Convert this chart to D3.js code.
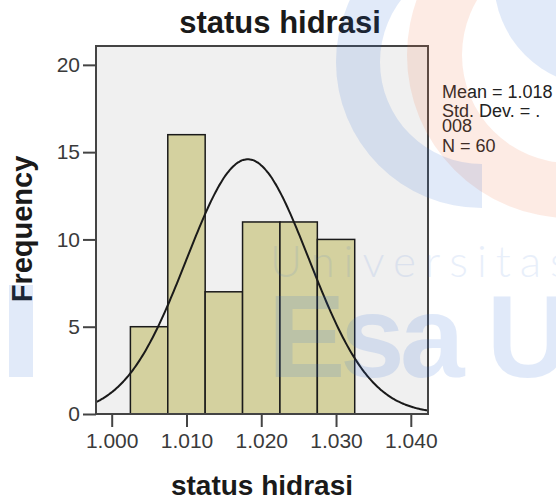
<!DOCTYPE html>
<html>
<head>
<meta charset="utf-8">
<script src="https://cdn.jsdelivr.net/npm/d3@7"></script>
<style>
  body { margin: 0; background: #fff; }
  svg { display: block; font-family: "Liberation Sans", Arial, sans-serif; }
</style>
</head>
<body>
<div id="chart"></div>
<script>
// histogram data
const binEdges = [1.0025, 1.0075, 1.0125, 1.0175, 1.0225, 1.0275, 1.0325];
const counts = [5, 16, 7, 11, 11, 10];
const xTicks = [1.0, 1.01, 1.02, 1.03, 1.04];
const yTicks = [0, 5, 10, 15, 20];
const xDomain = [0.9979, 1.0423];
const yDomain = [0, 21.08];
const fitMean = 1.0182;
const fitSd = 0.0082;
const nTotal = 60;
const legendLines = ["Mean = 1.018", "Std. Dev. = .", "008", "N = 60"];

const width = 556;
const height = 503;
const margin = { top: 46, left: 96 };
const plotW = 332;
const plotH = 368;

const svg = d3
  .select("#chart")
  .append("svg")
  .attr("width", width)
  .attr("height", height);

const g = svg
  .append("g")
  .attr("transform", "translate(" + margin.left + "," + margin.top + ")");

const x = d3.scaleLinear().domain(xDomain).range([0, plotW]);
const y = d3.scaleLinear().domain(yDomain).range([plotH, 0]);

// plot background
g.append("rect")
  .attr("width", plotW)
  .attr("height", plotH)
  .attr("fill", "#f0f0f0");

g.append("clipPath")
  .attr("id", "plot-clip")
  .append("rect")
  .attr("width", plotW)
  .attr("height", plotH);

const bins = counts.map((c, i) => ({ x0: binEdges[i], x1: binEdges[i + 1], count: c }));

g.selectAll(".bar")
  .data(bins)
  .enter()
  .append("rect")
  .attr("class", "bar")
  .attr("x", (d) => x(d.x0))
  .attr("width", (d) => x(d.x1) - x(d.x0))
  .attr("y", (d) => y(d.count))
  .attr("height", (d) => plotH - y(d.count))
  .attr("fill", "#d4d19f")
  .attr("stroke", "#1a1a1a")
  .attr("stroke-width", 1.5);

// fitted normal curve, scaled to counts per bin
const binWidth = binEdges[1] - binEdges[0];
const curvePts = d3.range(xDomain[0], xDomain[1] + 0.0001, 0.0002).map((v) => {
  const z = (v - fitMean) / fitSd;
  return [v, (nTotal * binWidth * Math.exp(-0.5 * z * z)) / (fitSd * Math.sqrt(2 * Math.PI))];
});

g.append("path")
  .datum(curvePts)
  .attr("clip-path", "url(#plot-clip)")
  .attr("fill", "none")
  .attr("stroke", "#1a1a1a")
  .attr("stroke-width", 2)
  .attr("d", d3.line().x((d) => x(d[0])).y((d) => y(d[1])).curve(d3.curveBasis));

// frame
g.append("rect")
  .attr("width", plotW)
  .attr("height", plotH)
  .attr("fill", "none")
  .attr("stroke", "#444")
  .attr("stroke-width", 2);

const yAxis = g
  .append("g")
  .call(d3.axisLeft(y).tickValues(yTicks).tickSize(13).tickPadding(3).tickFormat(d3.format("d")));

const xAxis = g
  .append("g")
  .attr("transform", "translate(0," + plotH + ")")
  .call(d3.axisBottom(x).tickValues(xTicks).tickSize(13).tickPadding(6).tickFormat(d3.format(".3f")));

[yAxis, xAxis].forEach((a) => {
  a.select(".domain").remove();
  a.selectAll("line").attr("stroke", "#444").attr("stroke-width", 2);
  a.selectAll("text")
    .attr("fill", "#3a3a3a")
    .style("font-size", "21px")
    .style("font-family", "'Liberation Sans', Arial, sans-serif");
});

// titles
svg.append("text")
  .attr("x", 280)
  .attr("y", 33)
  .attr("text-anchor", "middle")
  .attr("fill", "#1a1a1a")
  .style("font-size", "31px")
  .style("font-weight", "bold")
  .text("status hidrasi");

svg.append("text")
  .attr("x", 262)
  .attr("y", 495)
  .attr("text-anchor", "middle")
  .attr("fill", "#1a1a1a")
  .style("font-size", "28px")
  .style("font-weight", "bold")
  .text("status hidrasi");

svg.append("text")
  .attr("transform", "translate(32,229) rotate(-90)")
  .attr("text-anchor", "middle")
  .attr("fill", "#1a1a1a")
  .style("font-size", "29px")
  .style("font-weight", "bold")
  .text("Frequency");

// stats box
const legendY = [98, 116.5, 131.5, 151.5];
svg.append("g")
  .selectAll("text")
  .data(legendLines)
  .enter()
  .append("text")
  .attr("x", 442)
  .attr("y", (d, i) => legendY[i])
  .attr("fill", "#222")
  .style("font-size", "18px")
  .text((d) => d);

// faint watermark over the chart
const wm = svg.append("g").style("pointer-events", "none");

wm.append("path")
  .attr("transform", "translate(570,55)")
  .attr("fill", "#f4743f")
  .attr("opacity", 0.14)
  .attr("d", d3.arc().innerRadius(108).outerRadius(163).startAngle(0).endAngle(2 * Math.PI)());

wm.append("path")
  .attr("transform", "translate(482,62)")
  .attr("fill", "#2a6ad8")
  .attr("opacity", 0.14)
  .attr("d", d3.arc().innerRadius(102).outerRadius(146).startAngle(Math.PI).endAngle(2 * Math.PI)());

wm.append("circle")
  .attr("cx", 600)
  .attr("cy", -20)
  .attr("r", 106)
  .attr("fill", "#2a6ad8")
  .attr("opacity", 0.14);

wm.append("rect")
  .attr("x", 9)
  .attr("y", 285)
  .attr("width", 24)
  .attr("height", 92)
  .attr("fill", "#2a6ad8")
  .attr("opacity", 0.14);

wm.append("text")
  .attr("x", 270)
  .attr("y", 277)
  .attr("fill", "#2a6ad8")
  .attr("opacity", 0.1)
  .style("font-family", "Lato, 'Open Sans', sans-serif")
  .style("font-weight", 300)
  .style("font-size", "44px")
  .style("letter-spacing", "9px")
  .text("Universitas");

wm.append("text")
  .attr("x", 268)
  .attr("y", 377)
  .attr("fill", "#2a6ad8")
  .attr("opacity", 0.14)
  .style("font-size", "116px")
  .style("font-weight", "bold")
  .style("letter-spacing", "-5px")
  .text("Esa U");
</script>
</body>
</html>
